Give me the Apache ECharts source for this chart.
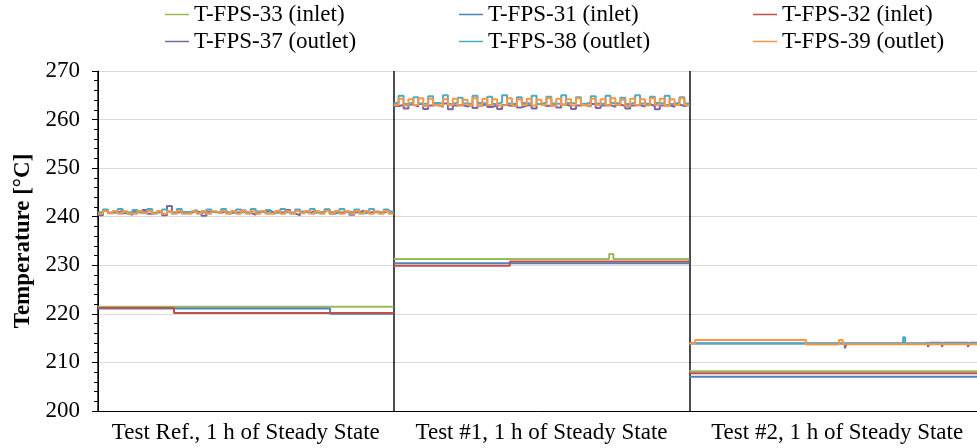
<!DOCTYPE html>
<html>
<head>
<meta charset="utf-8">
<script src="https://cdn.jsdelivr.net/npm/echarts@6/dist/echarts.min.js"></script>
<style>
html, body { margin: 0; padding: 0; background: #fff; }
#chart { width: 977px; height: 448px; }
</style>
</head>
<body>
<div id="chart"></div>
<script>
var categories = ['Test Ref., 1 h of Steady State', 'Test #1, 1 h of Steady State', 'Test #2, 1 h of Steady State'];
var yMin = 200, yMax = 270, yStep = 10;

// inlet sensors: [time, value] breakpoints per test, time counted in tests (0..3)
var t33 = [[[0, 221.45]], [[1, 231.3], [1.729, 232.3], [1.743, 231.3]], [[2, 208.2]]];
var t31 = [[[0, 221.1], [0.785, 220.0]], [[1, 230.4]], [[2, 207.05]]];
var t32 = [[[0, 221.2], [0.257, 220.2]], [[1, 229.9], [1.393, 230.8]], [[2, 207.75]]];

// outlet sensors, logged values for Test Ref. and Test #1 (equal time steps)
var t37Ref = [240.3,241.3,240.8,240.9,241.2,240.7,240.4,241.0,240.8,241.4,240.6,240.9,241.3,240.3,242.2,240.8,241.0,240.9,240.8,241.2,
  240.8,240.2,241.0,240.9,240.8,241.1,240.7,240.9,240.8,241.3,240.8,240.4,241.0,240.9,241.2,240.8,240.9,240.8,241.4,240.7,
  240.3,241.0,240.8,241.2,240.9,240.8,241.5,240.6,240.9,240.8,241.1,240.4,240.9,241.3,240.8,241.0,240.9,240.8,241.2,240.9];
var t38Ref = [240.9,241.5,240.8,241.0,241.6,240.9,240.8,241.4,240.9,241.0,241.6,240.8,240.9,241.5,241.0,240.8,241.6,240.9,241.0,241.4,
  240.8,240.9,241.5,241.0,240.9,241.6,240.8,241.0,241.5,240.9,240.8,241.6,241.0,240.9,241.4,240.8,241.0,241.6,240.9,240.8,
  241.5,241.0,240.9,241.6,240.8,241.0,241.5,240.9,240.8,241.6,241.0,240.9,241.5,240.8,241.0,241.6,240.9,240.8,241.5,241.0];
var t39Ref = [240.6,241.2,240.7,241.2,240.6,241.1,240.6,240.6,241.2,240.7,241.2,240.6,241.2,240.6,241.1,240.6,241.2,240.6,240.6,241.1,
  240.6,241.2,240.6,241.1,240.7,241.2,240.6,241.2,240.6,241.2,240.6,241.1,240.6,241.2,240.6,240.6,241.2,240.6,241.1,240.6,
  241.2,240.7,241.2,240.6,241.1,240.6,241.2,240.6,241.2,240.6,241.1,240.6,241.2,240.6,241.2,240.6,241.1,240.6,241.2,240.6];

var t37T1 = [262.8,263.0,262.3,263.1,262.7,263.2,262.2,262.9,263.0,262.6,263.3,262.1,262.9,263.0,262.7,263.1,262.4,262.9,263.2,262.6,
  262.9,262.2,263.0,262.8,263.1,262.5,262.9,263.0,262.3,263.2,262.8,262.9,263.0,262.5,263.1,262.8,262.2,262.9,263.0,262.7,
  263.2,262.4,262.9,263.0,262.6,263.1,262.8,262.3,262.9,263.0,262.7,263.2,262.8,262.1,262.9,263.0,262.6,263.1,262.8,263.0];
var t38T1 = [263.4,264.9,263.2,263.5,264.6,263.3,263.2,264.8,263.4,263.3,265.0,263.2,263.5,264.5,263.3,263.2,264.9,263.4,263.3,264.7,
  263.2,263.5,265.0,263.3,263.2,264.6,263.4,263.3,264.9,263.2,263.5,264.7,263.3,263.2,265.0,263.4,263.3,264.6,263.2,263.5,
  264.8,263.3,263.2,264.9,263.4,263.3,264.5,263.2,263.5,265.0,263.3,263.2,264.7,263.4,263.3,264.9,263.2,263.5,264.6,263.3];
var t39T1 = [263.0,264.3,262.9,264.2,263.0,264.4,262.8,264.3,263.0,262.7,264.2,263.0,264.3,262.9,264.1,263.0,264.4,262.8,264.3,263.0,
  264.2,262.9,263.0,264.4,262.8,264.2,263.0,264.3,262.9,264.1,263.0,264.4,262.8,264.3,263.0,264.2,262.9,264.4,263.0,262.8,
  264.3,263.0,264.2,262.9,264.4,263.0,264.1,262.8,264.3,263.0,264.2,262.9,264.4,263.0,264.3,262.8,264.2,263.0,264.4,263.0];

// outlet sensors, Test #2 breakpoints
var t37T2 = [[2, 213.9], [2.526, 212.9], [2.532, 213.9], [2.8, 214.05], [2.807, 213.2], [2.813, 214.05],
  [2.854, 213.2], [2.86, 214.05], [2.942, 213.2], [2.948, 214.05]];
var t38T2 = [[2, 213.95], [2.723, 215.2], [2.73, 213.95]];
var t39T2 = [[2, 213.9], [2.02, 214.6], [2.395, 213.7], [2.506, 214.6], [2.519, 213.75]];

var names = ['T-FPS-33 (inlet)', 'T-FPS-31 (inlet)', 'T-FPS-32 (inlet)',
  'T-FPS-37 (outlet)', 'T-FPS-38 (outlet)', 'T-FPS-39 (outlet)'];
var colors = ['#9BBB59', '#4F81BD', '#C0504D', '#8064A2', '#4BACC6', '#F79646'];

// one step line per series, broken between tests
function joinTests(tests) {
  var out = [];
  tests.forEach(function(pts, i) {
    out = out.concat(pts);
    out.push([i + 1, pts[pts.length - 1][1]]);
    if (i < tests.length - 1) out.push([i + 1, null]);
  });
  return out;
}
function logged(vals, i) {
  return vals.map(function(v, k) { return [i + k / vals.length, v]; });
}

var seriesData = [
  joinTests(t33), joinTests(t31), joinTests(t32),
  joinTests([logged(t37Ref, 0), logged(t37T1, 1), t37T2]),
  joinTests([logged(t38Ref, 0), logged(t38T1, 1), t38T2]),
  joinTests([logged(t39Ref, 0), logged(t39T1, 1), t39T2])
];

var font = 'Liberation Serif, Times New Roman, serif';
var legendPos = [[165, 3], [459, 3], [753, 3], [165, 30], [459, 30], [753, 30]];

var myChart = echarts.init(document.getElementById('chart'));
var option = {
  animation: false,
  color: colors,
  legend: names.map(function(n, i) {
    return {
      data: [n], left: legendPos[i][0], top: legendPos[i][1],
      icon: 'rect', itemWidth: 24, itemHeight: 1.5, padding: 0,
      textStyle: { fontFamily: font, fontSize: 23, color: '#000' }
    };
  }),
  grid: { left: 98, top: 71, width: 887, height: 340, outerBoundsMode: 'none', containLabel: false },
  xAxis: [{
    type: 'category',
    data: categories,
    boundaryGap: true,
    axisLine: { lineStyle: { color: '#000', width: 1 } },
    axisTick: { interval: 0, length: 6, lineStyle: { color: '#000' } },
    axisLabel: { interval: 0, fontFamily: font, fontSize: 23, color: '#000', margin: 10 },
    splitLine: { show: true, interval: 0, lineStyle: { color: '#111', width: 1.5 } }
  }, {
    type: 'value', min: 0, max: 3, show: false
  }],
  yAxis: {
    type: 'value',
    min: yMin, max: yMax, interval: yStep,
    name: 'Temperature [°C]',
    nameLocation: 'middle',
    nameRotate: 90,
    nameGap: 63,
    nameTextStyle: { fontFamily: font, fontSize: 23, fontWeight: 'bold', color: '#000' },
    axisLine: { show: true, lineStyle: { color: '#000', width: 1 } },
    axisTick: { show: true, length: 6, lineStyle: { color: '#000' } },
    minorTick: { show: true, splitNumber: 5, length: 4, lineStyle: { color: '#000' } },
    axisLabel: { fontFamily: font, fontSize: 23, color: '#000', margin: 18 },
    splitLine: { lineStyle: { color: '#D9D9D9', width: 1 } }
  },
  series: names.map(function(n, i) {
    return {
      name: n, type: 'line', xAxisIndex: 1, step: 'end',
      showSymbol: false, symbol: 'none', connectNulls: false,
      lineStyle: { width: 2, color: colors[i] },
      data: seriesData[i]
    };
  })
};
myChart.setOption(option);
</script>
</body>
</html>
